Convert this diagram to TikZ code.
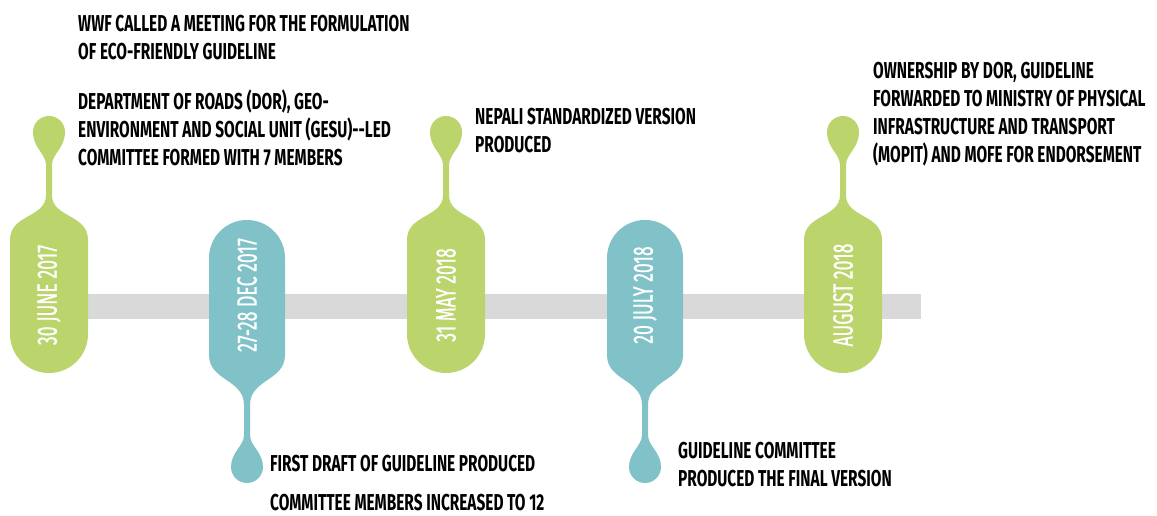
\documentclass[tikz,border=0pt]{standalone}
\usepackage{fontspec}
\newfontfamily\notefont[FakeStretch=0.67]{Fira Sans}
\newfontfamily\datefont[FakeStretch=0.63,FakeBold=0.7]{Fira Sans}
\definecolor{leaf}{RGB}{187,212,107}
\definecolor{sea}{RGB}{128,194,199}
\definecolor{rail}{RGB}{217,217,217}

% capsule with a drop on top (#1 = centre x, #2 = colour)
\newcommand{\updrop}[2]{%
  \begin{scope}[shift={(#1,0)}]
    \fill[#2] (-39,182) -- (-39,276)
      .. controls (-39,302) and (-3,298) .. (-3,321) -- (-3,351)
      .. controls (-3,362) and (-16,368) .. (-16,384)
      arc[start angle=180,end angle=0,radius=16pt]
      .. controls (16,368) and (3,362) .. (3,351) -- (3,321)
      .. controls (3,298) and (39,302) .. (39,276) -- (39,182)
      arc[start angle=0,end angle=-180,radius=39pt] -- cycle;
  \end{scope}}
% capsule with a drop below
\newcommand{\downdrop}[2]{%
  \begin{scope}[shift={(#1,0)}]
    \fill[#2] (-38,258) -- (-38,161)
      .. controls (-38,135) and (-3,137) .. (-3,111) -- (-3,81)
      .. controls (-3,70) and (-16,64) .. (-16,49)
      arc[start angle=180,end angle=360,radius=16pt]
      .. controls (16,64) and (3,70) .. (3,81) -- (3,111)
      .. controls (3,137) and (38,135) .. (38,161) -- (38,258)
      arc[start angle=0,end angle=180,radius=38pt] -- cycle;
  \end{scope}}

\begin{document}
\begin{tikzpicture}[x=1pt,y=1pt,
  note/.style={font=\notefont\bfseries\fontsize{23}{28}\selectfont,align=left,anchor=north west,inner sep=0pt},
  date/.style={font=\datefont\fontsize{28}{30}\selectfont,text=white,rotate=90}]
  \useasboundingbox (0,0) rectangle (1157,516);
  \fill[rail] (49,197) rectangle (921,222);
  \updrop{49}{leaf}
  \downdrop{247}{sea}
  \updrop{446}{leaf}
  \downdrop{645}{sea}
  \updrop{843}{leaf}

  \node [date] (jun17) at (49,221) {30 JUNE 2017};
  \node [date] (dec17) at (247,221) {27-28 DEC 2017};
  \node [date] (may18) at (446,221) {31 MAY 2018};
  \node [date] (jul18) at (645,221) {20 JULY 2018};
  \node [date] (aug18) at (843,221) {AUGUST 2018};

  \node [note] (wwf) at (78,501) {WWF CALLED A MEETING FOR THE FORMULATION\\OF ECO-FRIENDLY GUIDELINE};
  \node [note] (dor) at (78,426) {DEPARTMENT OF ROADS (DOR), GEO-\\ENVIRONMENT AND SOCIAL UNIT (GESU)--LED\\COMMITTEE FORMED WITH 7 MEMBERS};
  \node [note] (nepali) at (475,408) {NEPALI STANDARDIZED VERSION\\PRODUCED};
  \node [note] (owner) at (873,454) {OWNERSHIP BY DOR, GUIDELINE\\FORWARDED TO MINISTRY OF PHYSICAL\\INFRASTRUCTURE AND TRANSPORT\\(MOPIT) AND MOFE FOR ENDORSEMENT};
  \node [note] (draft) at (270,61) {FIRST DRAFT OF GUIDELINE PRODUCED};
  \node [note] (members) at (270,22) {COMMITTEE MEMBERS INCREASED TO 12};
  \node [note] (final) at (678,74) {GUIDELINE COMMITTEE\\PRODUCED THE FINAL VERSION};
\end{tikzpicture}
\end{document}
